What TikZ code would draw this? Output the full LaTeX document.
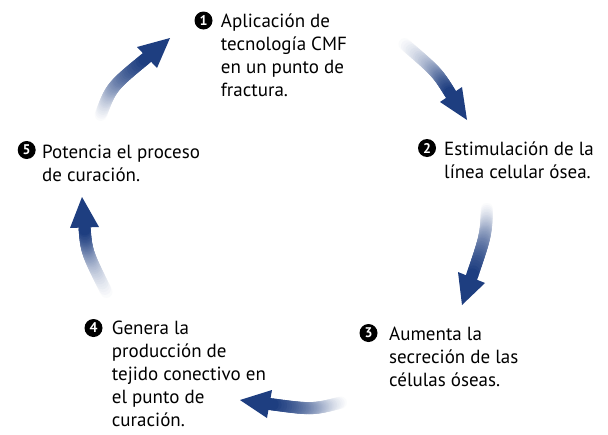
\documentclass[tikz,border=0pt]{standalone}
\usepackage{fontspec}
\setmainfont{PT Sans}
\definecolor{navy}{RGB}{30,62,128}
\tikzset{
  num/.style={circle, fill=black, text=white, inner sep=0pt, minimum size=18pt,
    font=\fontsize{14}{14}\selectfont\bfseries},
  lbl/.style={anchor=north west, inner sep=0pt, align=left,
    font=\fontsize{19}{23}\selectfont},
  headfill/.style={fill=navy}
}
\newcommand\gradarrow[6]{%
  \path (#1) .. controls (#2) .. (#3)
    \foreach \i in {0,...,40}{coordinate[pos=\i/40] (q\i)};
  \foreach \i in {0,...,39}{%
    \pgfmathtruncatemacro\j{\i+1}%
    \pgfmathtruncatemacro\c{100*\i/39}%
    \draw[line width=12pt, draw=navy!\c!white, line cap=round] (q\i) -- (q\j);}
  \fill[headfill] (#4) -- (#5) -- (#6) -- cycle;
}
% first-line strut height = 0.7*23pt = 16.1pt
\newcommand\firstline{\strut}
\begin{document}
\begin{tikzpicture}[x=1pt,y=-1pt]
\useasboundingbox (0,0) rectangle (608,434);
\fill[white] (0,0) rectangle (608,434);

% arrows
\gradarrow{100,117}{111,87}{147,57.5}{170,38}{137,47}{157,68}
\gradarrow{402,42}{437,72}{451,94.5}{467,120}{440,102}{462,87}
\gradarrow{487,207}{486,235}{471.5,277.5}{462,305}{458,272}{485,283}
\gradarrow{343,402}{312.6,409.8}{269.5,404}{240,400}{272,390}{267,418}
\gradarrow{108,295}{86.5,252}{84.5,227.5}{82,197}{70,228}{99,227}

% numbers
\node[num] (n1) at (203.5,20.5) {1};
\node[num] (n2) at (427,148) {2};
\node[num] (n3) at (368.5,333) {3};
\node[num] (n4) at (93.5,328) {4};
\node[num] (n5) at (26.7,150) {5};

% labels (north west at baseline minus 16.1pt)
\node[lbl] (t1) at (220.7,11.6) {\firstline Aplicación de\\tecnología CMF\\en un punto de\\fractura.};
\node[lbl] (t2) at (444,138.9) {\firstline Estimulación de la\\línea celular ósea.};
\node[lbl] (t3) at (389,323.9) {\firstline Aumenta la\\secreción de las\\células óseas.};
\node[lbl] (t4) at (111.7,317.9) {\firstline Genera la\\producción de\\tejido conectivo en\\el punto de\\curación.};
\node[lbl] (t5) at (42,141.9) {\firstline Potencia el proceso\\de curación.};
\end{tikzpicture}
\end{document}
